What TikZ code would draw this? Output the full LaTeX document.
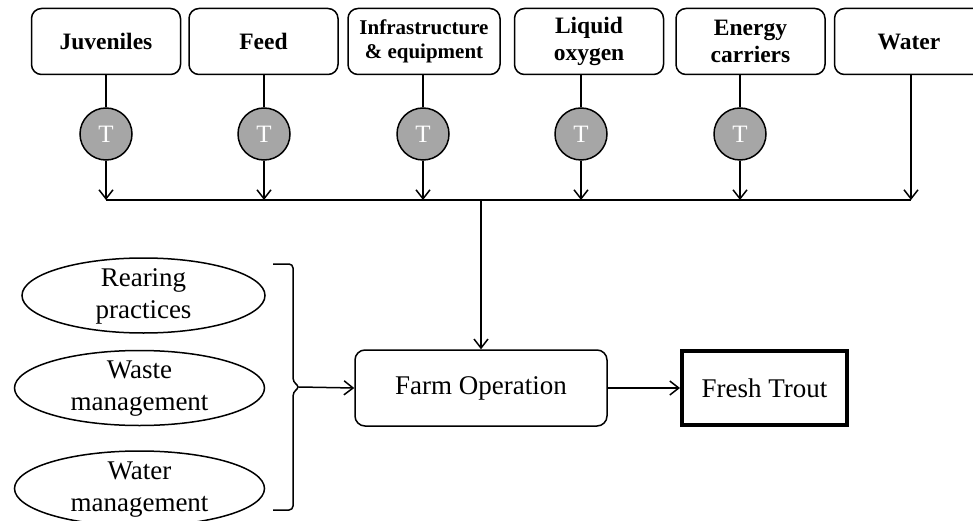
\documentclass[tikz,border=0pt]{standalone}
\usepackage{fontspec}
\setmainfont{Liberation Serif}
\usetikzlibrary{shapes.geometric,arrows.meta}

\begin{document}
\begin{tikzpicture}[x=1pt,y=-1pt,line width=1.5pt,
  inbox/.style={draw,rounded corners=10pt,minimum width=149pt,minimum height=66pt,
    inner sep=0pt,align=center,font=\fontsize{23.5}{27}\selectfont\bfseries},
  tcirc/.style={circle,draw,fill=gray!70,minimum size=52pt,inner sep=0pt,
    text=white,font=\fontsize{25}{25}\selectfont},
  practice/.style={ellipse,draw,minimum width=250pt,minimum height=75pt,inner sep=0pt},
  plabel/.style={align=center,font=\fontsize{27}{32}\selectfont},
  flow/.style={-{Straight Barb[length=9pt,width=14pt]}}]
% Parameters
\def\boxY{41.5}
\def\tY{134}
\def\busY{200}
\def\farmY{388}

\useasboundingbox (0,0) rectangle (973,521);

% Inputs
\node[inbox] (juv) at (106,\boxY) {Juveniles};
\node[inbox] (feed) at (263.5,\boxY) {Feed};
\node[inbox,minimum width=152pt,font=\fontsize{21}{24}\selectfont\bfseries] (infra) at (424,\boxY) {Infrastructure\\\& equipment};
\node[inbox] (liq) at (589,\boxY) {Liquid\\oxygen};
\node[inbox] (energy) at (750.5,\boxY) {Energy\\carriers};
\node[inbox] (water) at (909,\boxY) {Water};

% Transport
\node[tcirc] (tjuv) at (106,\tY) {T};
\node[tcirc] (tfeed) at (264,\tY) {T};
\node[tcirc] (tinfra) at (423,\tY) {T};
\node[tcirc] (tliq) at (581,\tY) {T};
\node[tcirc] (tenergy) at (740,\tY) {T};

\foreach \t/\b in {tjuv/juv,tfeed/feed,tinfra/infra,tliq/liq,tenergy/energy}{
  \draw (\t) -- (\t |- \b.south);
  \coordinate (\t bus) at (\t |- 0,\busY);
  \draw[flow] (\t) -- (\t bus);
}
\coordinate (wtop) at (911,75);
\coordinate (wbus) at (911,\busY);
\draw[flow] (wtop) -- (wbus);
\coordinate (junction) at (481,\busY);
\draw (tjuvbus) -- (wbus);

% Farm
\node[draw,rounded corners=10pt,minimum width=252pt,minimum height=76pt,
  font=\fontsize{27}{32}\selectfont] (farm) at (481,\farmY) {\raisebox{-3pt}{Farm Operation}};
\node[draw,line width=4pt,minimum width=165pt,minimum height=74pt,
  font=\fontsize{27}{32}\selectfont] (trout) at (764.5,\farmY) {\raisebox{-3pt}{Fresh Trout}};
\draw[flow] (junction) -- (farm.north);
\draw[flow] (farm) -- (trout);

% Practices
\node[practice,minimum width=243pt] (rear) at (143.5,295.5) {};
\node[practice] (waste) at (139.5,388) {};
\node[practice] (watman) at (139.5,488.5) {};
\node[plabel] at ([yshift=-1pt]rear) {Rearing\\practices};
\node[plabel] at ([yshift=-1pt]waste) {Waste\\management};
\node[plabel] at ([yshift=-1pt]watman) {Water\\management};

\draw[rounded corners=4pt] (273,264) -- (293,264) -- (293,382) -- (300,387)
  -- (293,392) -- (293,510) -- (273,510);
\coordinate (brtip) at (299,387);
\draw[flow] (brtip) -- (farm.west);
\end{tikzpicture}
\end{document}
